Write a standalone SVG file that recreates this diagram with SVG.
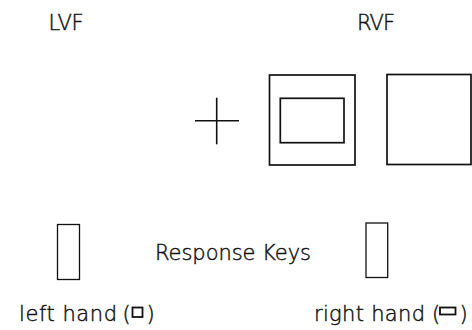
<svg xmlns="http://www.w3.org/2000/svg" width="472" height="330" viewBox="0 0 472 330">
  <style>
    .lbl { font-family: "DejaVu Sans", "Liberation Sans", sans-serif; font-weight: 200; font-size: 21px; fill: #111; stroke: #111; stroke-width: 0.45; }
    .frame { fill: none; stroke: #111; stroke-width: 1.7; }
    .key { fill: none; stroke: #111; stroke-width: 1.3; }
    .cross { stroke: #111; stroke-width: 1.6; }
    .icon { fill: none; stroke: #111; stroke-width: 1.8; }
  </style>
  <rect width="472" height="330" fill="#fff"/>

  <!-- visual field headings -->
  <g id="lvf-label">
    <text class="lbl" x="48.5" y="29.5" textLength="35" lengthAdjust="spacing">LVF</text>
  </g>
  <g id="rvf-label">
    <text class="lbl" x="357" y="29.5" textLength="38" lengthAdjust="spacing">RVF</text>
  </g>

  <!-- fixation cross -->
  <g id="fixation">
    <line class="cross" x1="195" y1="120.7" x2="239" y2="120.7"/>
    <line class="cross" x1="216.7" y1="97.7" x2="216.7" y2="144.3"/>
  </g>

  <!-- stimulus frame with inner rectangle -->
  <g id="stimulus-nested">
    <rect class="frame" x="269.5" y="75" width="85.5" height="90"/>
    <rect class="frame" x="280.3" y="98.3" width="63.7" height="44.4"/>
  </g>

  <!-- empty stimulus frame -->
  <g id="stimulus-empty">
    <rect class="frame" x="387" y="74.5" width="84" height="90"/>
  </g>

  <!-- response keys -->
  <g id="key-left">
    <rect class="key" x="57.5" y="224.5" width="22" height="55"/>
  </g>
  <g id="key-right">
    <rect class="key" x="366" y="223" width="21.7" height="54.5"/>
  </g>
  <g id="keys-label">
    <text class="lbl" x="155" y="259.5" textLength="156" lengthAdjust="spacing">Response Keys</text>
  </g>

  <!-- hand assignments, each with the shape it responds to -->
  <g id="left-hand-label">
    <text class="lbl" y="321"><tspan x="19" textLength="98" lengthAdjust="spacing">left hand</tspan><tspan x="122.5">(</tspan><tspan x="146.5">)</tspan></text>
    <rect class="icon" x="132.5" y="307.5" width="10" height="9.5"/>
  </g>
  <g id="right-hand-label">
    <text class="lbl" y="321"><tspan x="314" textLength="111" lengthAdjust="spacing">right hand</tspan><tspan x="432">(</tspan><tspan x="459.5">)</tspan></text>
    <rect class="icon" x="440" y="307.5" width="15.5" height="7"/>
  </g>
</svg>
